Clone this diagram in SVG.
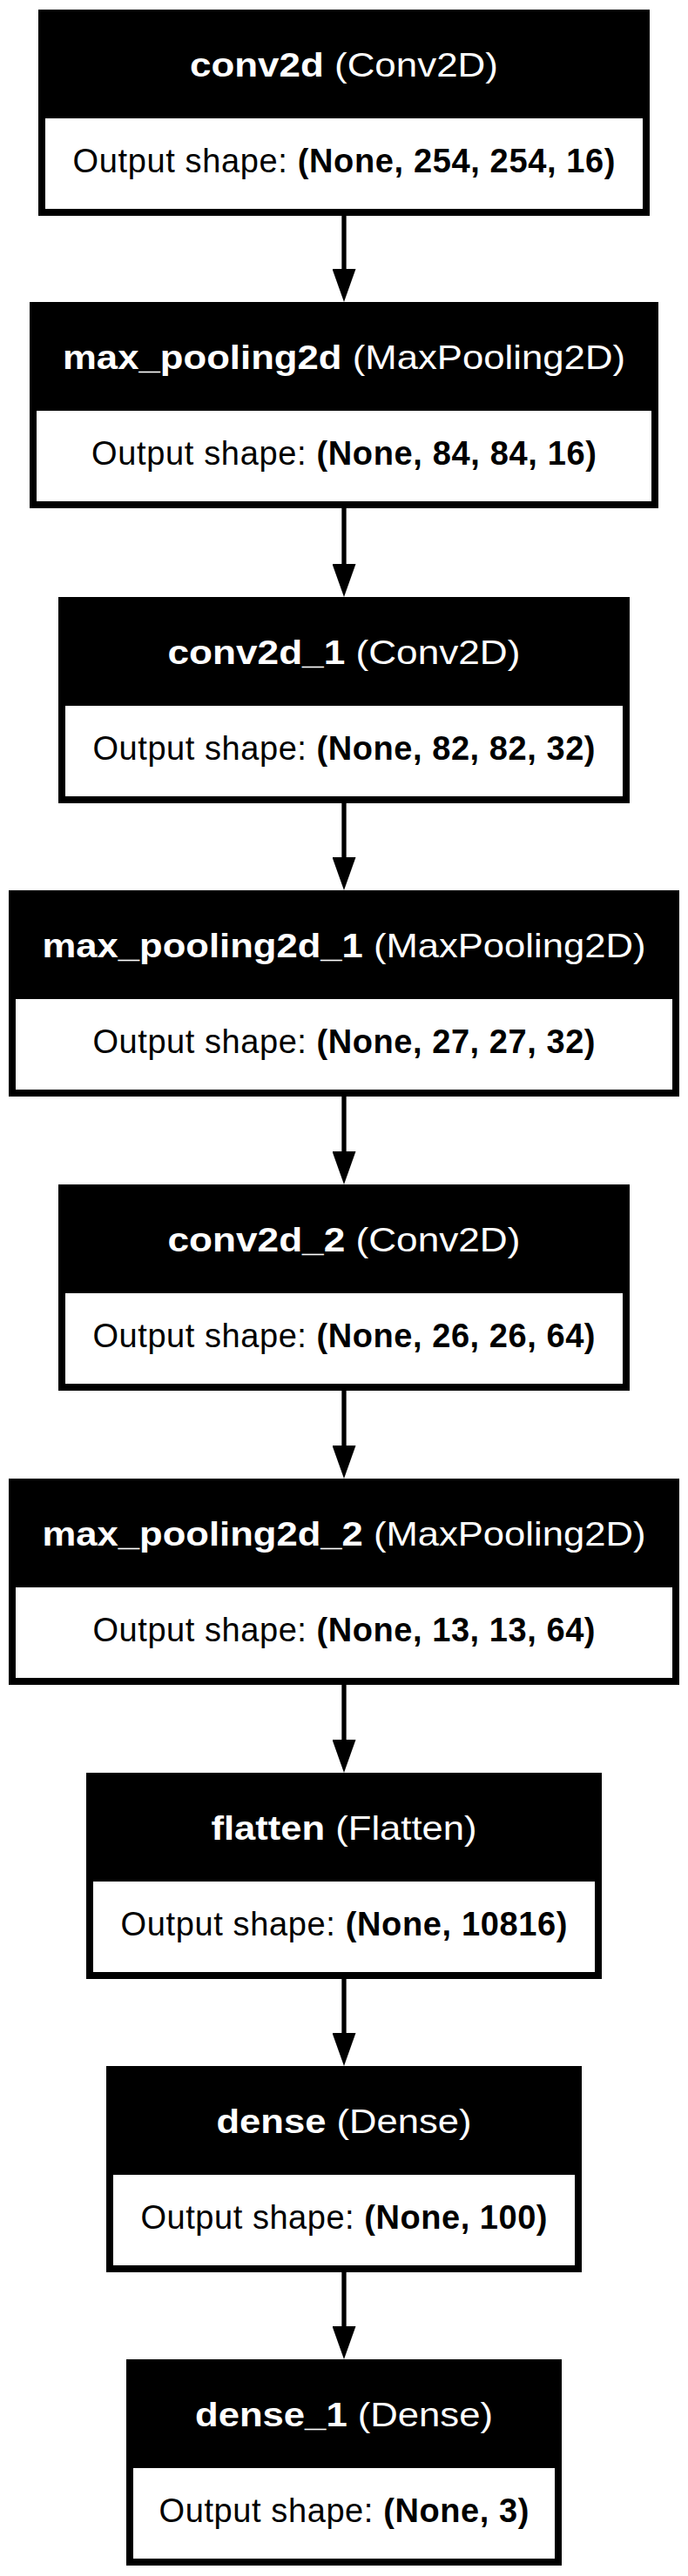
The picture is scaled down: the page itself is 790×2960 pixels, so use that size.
<svg xmlns="http://www.w3.org/2000/svg" width="790" height="2960" viewBox="0 0 790 2960">
<style>
  text { font-family: "Liberation Sans", Arial, Helvetica, sans-serif; }
  .frame { fill: #000; }
  .inner { fill: #fff; }
  .title { fill: #fff; font-size: 39px; }
  .out { fill: #000; font-size: 38px; }
  .b { font-weight: bold; }
  .edge { stroke: #000; stroke-width: 5.3; fill: none; }
</style>
<defs>
  <marker id="ah" viewBox="0 -13.5 38 27" refX="0" refY="0" markerWidth="38" markerHeight="27" markerUnits="userSpaceOnUse" orient="auto">
    <path d="M0,-13.5 L38,0 L0,13.5 Z" fill="#000"/>
  </marker>
</defs>
<rect width="790" height="2960" fill="#fff"/>
<g id="connectors">
  <line class="edge" x1="395" y1="248" x2="395" y2="309" marker-end="url(#ah)"/>
  <line class="edge" x1="395" y1="584" x2="395" y2="648" marker-end="url(#ah)"/>
  <line class="edge" x1="395" y1="923" x2="395" y2="985" marker-end="url(#ah)"/>
  <line class="edge" x1="395" y1="1260" x2="395" y2="1323" marker-end="url(#ah)"/>
  <line class="edge" x1="395" y1="1598" x2="395" y2="1661" marker-end="url(#ah)"/>
  <line class="edge" x1="395" y1="1936" x2="395" y2="1999" marker-end="url(#ah)"/>
  <line class="edge" x1="395" y1="2274" x2="395" y2="2336" marker-end="url(#ah)"/>
  <line class="edge" x1="395" y1="2611" x2="395" y2="2673" marker-end="url(#ah)"/>
</g>
<g id="conv2d">
  <rect class="frame" x="44" y="11" width="702" height="237"/>
  <rect class="inner" x="52" y="136" width="686" height="104"/>
  <text class="title" x="218" y="88" textLength="354" lengthAdjust="spacingAndGlyphs"><tspan class="b">conv2d</tspan> (Conv2D)</text>
  <text class="out" x="83.5" y="198" textLength="623">Output shape: <tspan class="b">(None, 254, 254, 16)</tspan></text>
</g>
<g id="max_pooling2d">
  <rect class="frame" x="34" y="347" width="722" height="237"/>
  <rect class="inner" x="42" y="472" width="706" height="104"/>
  <text class="title" x="72" y="424" textLength="646" lengthAdjust="spacingAndGlyphs"><tspan class="b">max_pooling2d</tspan> (MaxPooling2D)</text>
  <text class="out" x="105" y="534" textLength="580">Output shape: <tspan class="b">(None, 84, 84, 16)</tspan></text>
</g>
<g id="conv2d_1">
  <rect class="frame" x="67" y="686" width="656" height="237"/>
  <rect class="inner" x="75" y="811" width="640" height="104"/>
  <text class="title" x="192.5" y="763" textLength="405" lengthAdjust="spacingAndGlyphs"><tspan class="b">conv2d_1</tspan> (Conv2D)</text>
  <text class="out" x="106.5" y="873" textLength="577">Output shape: <tspan class="b">(None, 82, 82, 32)</tspan></text>
</g>
<g id="max_pooling2d_1">
  <rect class="frame" x="10" y="1023" width="770" height="237"/>
  <rect class="inner" x="18" y="1148" width="754" height="104"/>
  <text class="title" x="48.5" y="1100" textLength="693" lengthAdjust="spacingAndGlyphs"><tspan class="b">max_pooling2d_1</tspan> (MaxPooling2D)</text>
  <text class="out" x="106.5" y="1210" textLength="577">Output shape: <tspan class="b">(None, 27, 27, 32)</tspan></text>
</g>
<g id="conv2d_2">
  <rect class="frame" x="67" y="1361" width="656" height="237"/>
  <rect class="inner" x="75" y="1486" width="640" height="104"/>
  <text class="title" x="192.5" y="1438" textLength="405" lengthAdjust="spacingAndGlyphs"><tspan class="b">conv2d_2</tspan> (Conv2D)</text>
  <text class="out" x="106.5" y="1548" textLength="577">Output shape: <tspan class="b">(None, 26, 26, 64)</tspan></text>
</g>
<g id="max_pooling2d_2">
  <rect class="frame" x="10" y="1699" width="770" height="237"/>
  <rect class="inner" x="18" y="1824" width="754" height="104"/>
  <text class="title" x="48.5" y="1776" textLength="693" lengthAdjust="spacingAndGlyphs"><tspan class="b">max_pooling2d_2</tspan> (MaxPooling2D)</text>
  <text class="out" x="106.5" y="1886" textLength="577">Output shape: <tspan class="b">(None, 13, 13, 64)</tspan></text>
</g>
<g id="flatten">
  <rect class="frame" x="99" y="2037" width="592" height="237"/>
  <rect class="inner" x="107" y="2162" width="576" height="104"/>
  <text class="title" x="242.5" y="2114" textLength="305" lengthAdjust="spacingAndGlyphs"><tspan class="b">flatten</tspan> (Flatten)</text>
  <text class="out" x="138.5" y="2224" textLength="513">Output shape: <tspan class="b">(None, 10816)</tspan></text>
</g>
<g id="dense">
  <rect class="frame" x="122" y="2374" width="546" height="237"/>
  <rect class="inner" x="130" y="2499" width="530" height="104"/>
  <text class="title" x="248.5" y="2451" textLength="293" lengthAdjust="spacingAndGlyphs"><tspan class="b">dense</tspan> (Dense)</text>
  <text class="out" x="161.5" y="2561" textLength="467">Output shape: <tspan class="b">(None, 100)</tspan></text>
</g>
<g id="dense_1">
  <rect class="frame" x="145" y="2711" width="500" height="237"/>
  <rect class="inner" x="153" y="2836" width="484" height="104"/>
  <text class="title" x="224" y="2788" textLength="342" lengthAdjust="spacingAndGlyphs"><tspan class="b">dense_1</tspan> (Dense)</text>
  <text class="out" x="182.5" y="2898" textLength="425">Output shape: <tspan class="b">(None, 3)</tspan></text>
</g>
</svg>
